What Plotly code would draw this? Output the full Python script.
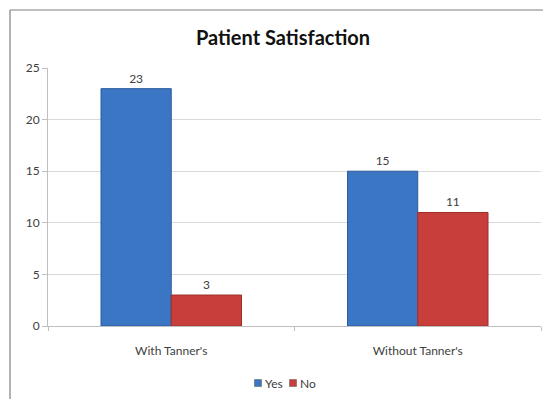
import plotly.graph_objects as go

# Survey results
categories = ["With Tanner's", "Without Tanner's"]
yes_counts = [23, 15]
no_counts = [3, 11]
series_names = ["Yes", "No"]
series_colors = ["#3b76c4", "#c73e3a"]
edge_colors = ["#2d5c9c", "#9c2f2c"]

W, H = 543, 399
M_L, M_R, M_T, M_B = 48, 2, 68, 73
plot_w = W - M_L - M_R
plot_h = H - M_T - M_B


def px_x(px):
    return (px - M_L) / plot_w


def px_y(py):
    return (H - M_B - py) / plot_h


FONT = "Lato, 'Open Sans', sans-serif"
TEXT_COLOR = "#404040"
label_font = dict(family=FONT, size=12, color=TEXT_COLOR)

fig = go.Figure()
for name, values, color, edge in zip(series_names, [yes_counts, no_counts],
                                     series_colors, edge_colors):
    fig.add_trace(go.Bar(
        name=name, x=categories, y=values,
        marker=dict(color=color, line=dict(color=edge, width=1)),
        text=values, textposition="outside", textfont=label_font,
        cliponaxis=False, showlegend=False,
    ))

# Compact legend below the axis: a colored key square then the series name
legend_key_px = [258, 293]
for name, color, key_px in zip(series_names, series_colors, legend_key_px):
    fig.add_shape(type="rect", xref="paper", yref="paper",
                  x0=px_x(key_px - 3.5), x1=px_x(key_px + 3.5),
                  y0=px_y(383 + 3.5), y1=px_y(383 - 3.5),
                  fillcolor=color, line=dict(color="#555555", width=0.5))
    fig.add_annotation(text=name, xref="paper", yref="paper",
                       x=px_x(key_px + 5), y=px_y(383), xanchor="left", yanchor="middle",
                       showarrow=False, xshift=0,
                       font=dict(family=FONT, size=12, color=TEXT_COLOR))

# Chart frame (top and left edges)
frame = dict(type="line", xref="paper", yref="paper",
             line=dict(color="#7f7f7f", width=1.2))
fig.add_shape(**frame, x0=px_x(10), x1=px_x(W + 5), y0=px_y(10), y1=px_y(10))
fig.add_shape(**frame, x0=px_x(10), x1=px_x(10), y0=px_y(10), y1=px_y(H + 5))

fig.update_layout(
    width=W, height=H,
    margin=dict(l=M_L, r=M_R, t=M_T, b=M_B),
    paper_bgcolor="white", plot_bgcolor="white",
    barmode="group", bargap=0.43, bargroupgap=0,
    title=dict(text="<b>Patient Satisfaction</b>",
               font=dict(family=FONT, size=20, color="#111111"),
               x=px_x(283), xref="paper", xanchor="center",
               y=1 - 38 / H, yanchor="middle"),
    font=label_font,
    xaxis=dict(showline=True, linecolor="#bfbfbf", linewidth=1,
               ticks="outside", ticklen=4, tickcolor="#bfbfbf",
               tickson="boundaries", showgrid=False,
               ticklabelstandoff=14, tickfont=label_font),
    yaxis=dict(range=[0, 25], dtick=5, showline=True, linecolor="#bfbfbf", linewidth=1,
               ticks="outside", ticklen=5, tickcolor="#bfbfbf",
               showgrid=True, gridcolor="#d9d9d9", gridwidth=1,
               zeroline=False, tickfont=label_font),
)

fig.write_html("out.html")
